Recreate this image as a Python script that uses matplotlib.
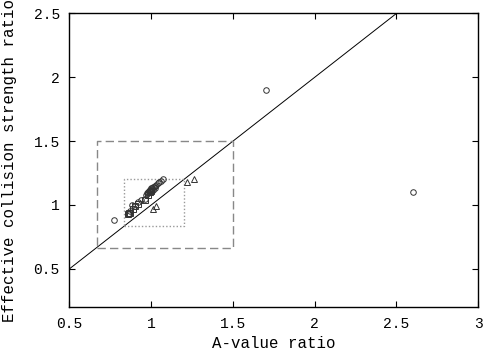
import numpy as np
import matplotlib
matplotlib.use("Agg")
import matplotlib.pyplot as plt

# =========================
# DATA
# =========================
circ_x = [0.77, 0.86, 0.87, 0.88, 0.90, 0.92, 0.94, 0.96, 0.97, 0.975, 0.98, 0.98, 0.985,
          0.99, 0.99, 0.995, 1.00, 1.00, 1.005, 1.01, 1.01, 1.015, 1.02, 1.02, 1.03, 1.04,
          1.05, 1.06, 1.07, 1.70, 2.60]
circ_y = [0.88, 0.93, 0.95, 1.00, 0.99, 1.02, 1.04, 1.05, 1.08, 1.09, 1.09, 1.10, 1.11,
          1.11, 1.12, 1.12, 1.11, 1.13, 1.13, 1.12, 1.14, 1.14, 1.13, 1.15, 1.16, 1.17,
          1.18, 1.19, 1.20, 1.90, 1.10]

sq_x = [0.86, 0.865, 0.87, 0.89, 0.90, 0.92, 0.96, 0.98, 0.99, 1.00]
sq_y = [0.93, 0.935, 0.94, 0.97, 0.99, 1.01, 1.04, 1.08, 1.10, 1.11]

tri_x = [1.01, 1.03, 1.22, 1.26]
tri_y = [0.97, 0.99, 1.18, 1.20]

# agreement boxes (factor 1.5 and 1.2)
f_outer = 1.5
f_inner = 1.2

xticks = [0.5, 1, 1.5, 2, 2.5, 3]
yticks = [0.5, 1, 1.5, 2, 2.5]

plt.rcParams['font.family'] = ['Liberation Mono', 'DejaVu Sans Mono']
plt.rcParams['font.size'] = 10.5

fig = plt.figure(figsize=(4.86, 3.53), dpi=100)
ax = fig.add_axes([0.143, 0.130, 0.841, 0.832])

# y = x line
ax.plot([0.5, 3], [0.5, 3], color='black', lw=0.7)

def box(f, **kw):
    lo, hi = 1 / f, f
    ax.plot([lo, hi, hi, lo, lo], [lo, lo, hi, hi, lo], **kw)

box(f_outer, color='#888888', lw=1.0, ls=(0, (6, 3)))
box(f_inner, color='#999999', lw=1.0, ls=(0, (1, 1.5)))

ax.plot(circ_x, circ_y, 'o', mfc='none', mec='#333333', ms=4, mew=0.7)
ax.plot(sq_x, sq_y, 's', mfc='none', mec='#333333', ms=4, mew=0.7)
ax.plot(tri_x, tri_y, '^', mfc='none', mec='#333333', ms=4, mew=0.7)

ax.set_xlim(0.5, 3)
ax.set_ylim(0.2, 2.5)
ax.set_xticks(xticks)
ax.set_xticklabels(['0.5', '1', '1.5', '2', '2.5', '3'])
ax.set_yticks(yticks)
ax.set_yticklabels(['0.5', '1', '1.5', '2', '2.5'])
ax.tick_params(direction='in', top=True, right=True, length=4, width=0.8, pad=7)
for s in ax.spines.values():
    s.set_linewidth(1.0)

ax.set_xlabel('A-value ratio', fontsize=11.3, labelpad=4)
ax.set_ylabel('Effective collision strength ratio', fontsize=11.3, labelpad=12)

fig.savefig('out.png', dpi=100)
